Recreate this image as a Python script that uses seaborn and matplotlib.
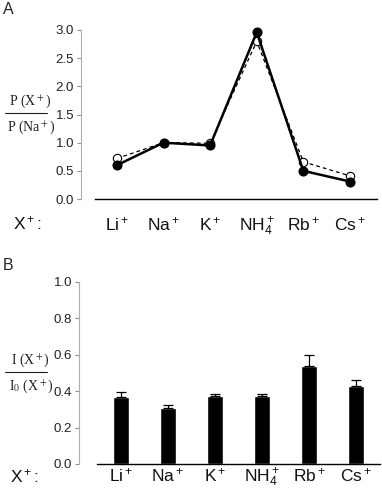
import matplotlib
matplotlib.use("Agg")
import matplotlib.pyplot as plt
import seaborn as sns
import numpy as np
from matplotlib.lines import Line2D

# ion labels shared by both panels
cations = ["Li$^+$", "Na$^+$", "K$^+$", "NH$_4^+$", "Rb$^+$", "Cs$^+$"]

# panel A: permeability ratios P(X+)/P(Na+)
perm_filled = [0.60, 1.00, 0.95, 2.96, 0.50, 0.31]
perm_open = [0.72, 1.00, 0.99, 2.80, 0.66, 0.41]

# panel B: current ratios I/I0 with SEM
cur_ratio = [0.366, 0.310, 0.372, 0.372, 0.537, 0.426]
cur_err = [0.031, 0.012, 0.014, 0.012, 0.063, 0.037]

sns.set_style("white")
plt.rcParams['font.family'] = ['Liberation Sans', 'DejaVu Sans']
plt.rcParams['mathtext.fontset'] = 'custom'
plt.rcParams['mathtext.rm'] = 'Liberation Sans'
plt.rcParams['mathtext.it'] = 'Liberation Sans:italic'

W, H = 382, 500
fig = plt.figure(figsize=(W / 100, H / 100), dpi=100)

pos = np.arange(len(cations))


def frac(ax_y, top, bottom):
    kw = dict(family=['Liberation Serif', 'DejaVu Serif'], math_fontfamily='stix',
              fontsize=10, ha='center', va='center', color='#222222')
    fig.text(30 / W, 1 - (ax_y - 12) / H, top, **kw)
    fig.text(31 / W, 1 - (ax_y + 14) / H, bottom, **kw)
    fig.add_artist(Line2D([5 / W, 47 / W], [1 - ax_y / H, 1 - ax_y / H],
                          color='#222222', lw=0.8))


def style_axis(ax, x0, x1, ylim, yticks, fmt):
    ax.set_ylim(*ylim)
    ax.set_yticks(yticks)
    ax.set_yticklabels([fmt % v for v in yticks], fontsize=9.5, color='#222222')
    for s in ['top', 'right']:
        ax.spines[s].set_visible(False)
    ax.spines['left'].set_color('#b0b0b0')
    ax.spines['left'].set_linewidth(0.8)
    ax.spines['bottom'].set_color('black')
    ax.spines['bottom'].set_linewidth(1.0)
    ax.spines['bottom'].set_bounds(x0, x1)
    ax.tick_params(axis='y', length=3, width=0.8, color='#909090', pad=2, left=True)
    ax.tick_params(axis='x', length=0)
    ax.set_xlabel("")
    ax.set_ylabel("")


# ---- panel A ----
axA = fig.add_axes([81 / W, 1 - 199 / H, (377 - 81) / W, (199 - 30) / H])
sns.lineplot(x=pos, y=perm_open, ax=axA, color='black', lw=0.9, ls=(0, (3, 2.5)),
             marker='o', markersize=6, markerfacecolor='white',
             markeredgecolor='black', markeredgewidth=0.8)
sns.lineplot(x=pos, y=perm_filled, ax=axA, color='black', lw=1.8,
             marker='o', markersize=6.5, markerfacecolor='black',
             markeredgecolor='black')
for ln in axA.lines:
    ln.set_clip_on(False)
axA.set_xlim(-0.77, 5.58)
style_axis(axA, -0.47, 5.58, (0, 3.0), [0, 0.5, 1.0, 1.5, 2.0, 2.5, 3.0], "%.1f")
axA.set_xticks(pos)
axA.set_xticklabels(cations, fontsize=12.5, color='#111111')
axA.tick_params(axis='x', pad=12)
fig.text(27 / W, 1 - 223 / H, "X$^+$:", fontsize=12.5, ha='center', va='center', color='#111111')
fig.text(3 / W, 1 - 10 / H, "A", fontsize=11.5, ha='left', va='center')
frac(113, "P (X$^+$)", "P (Na$^+$)")

# ---- panel B ----
axB = fig.add_axes([79 / W, 1 - 464 / H, (380 - 79) / W, (464 - 282) / H])
sns.barplot(x=pos, y=cur_ratio, ax=axB, color='black', width=0.355,
            saturation=1, errorbar=None, native_scale=True)
axB.errorbar(pos, cur_ratio, yerr=[np.zeros(len(pos)), cur_err], fmt='none',
             ecolor='black', elinewidth=0.9, capsize=3.5, capthick=0.9)
axB.set_xlim(-0.89, 5.51)
style_axis(axB, -0.5, 5.51, (0, 1.0), [0, 0.2, 0.4, 0.6, 0.8, 1.0], "%.1f")
axB.set_xticks(pos)
axB.set_xticklabels(cations, fontsize=12.5, color='#111111')
axB.tick_params(axis='x', pad=2)
fig.text(24 / W, 1 - 476 / H, "X$^+$:", fontsize=12.5, ha='center', va='center', color='#111111')
fig.text(3 / W, 1 - 265 / H, "B", fontsize=11.5, ha='left', va='center')
frac(372, "I (X$^+$)", "I$_0$ (X$^+$)")

fig.savefig("out.png", dpi=100)
